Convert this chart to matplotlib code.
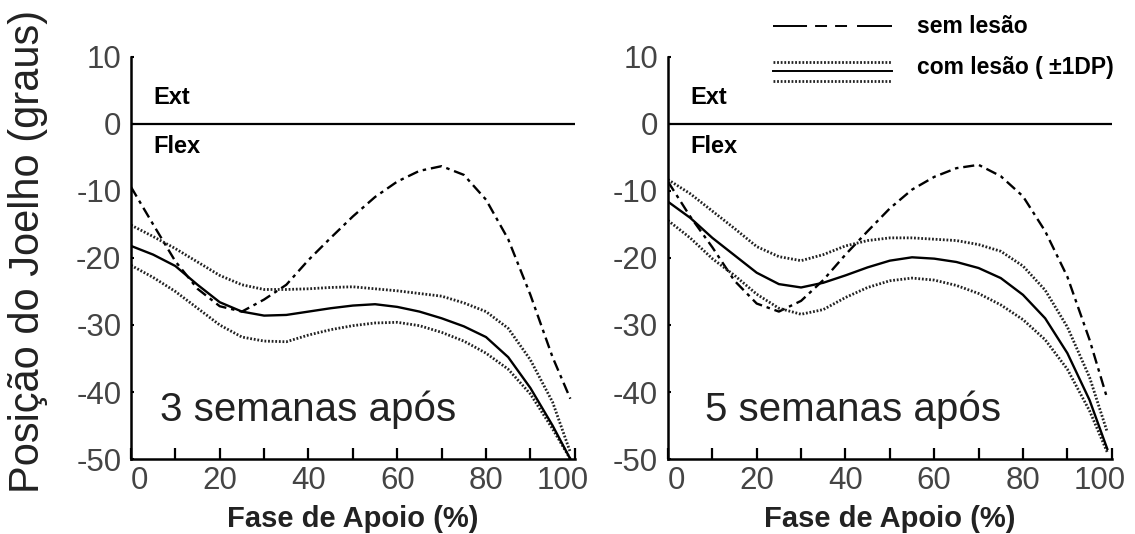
import matplotlib
matplotlib.use("Agg")
import matplotlib.pyplot as plt
from matplotlib.lines import Line2D
from matplotlib.transforms import ScaledTranslation

plt.rcParams['font.family'] = ['Liberation Sans', 'DejaVu Sans']
plt.rcParams['axes.unicode_minus'] = False
plt.rcParams['lines.scale_dashes'] = False

# fase de apoio (%)
fase = [0, 5, 10, 15, 20, 25, 30, 35, 40, 45, 50, 55, 60, 65, 70, 75, 80, 85, 90, 95, 99]

# 3 semanas após
sem3 = [-9.4, -15.0, -20.5, -24.6, -27.2, -28.0, -26.2, -24.0, -20.3, -17.0, -13.8, -10.9,
        -8.6, -7.0, -6.3, -7.6, -11.3, -17.2, -25.5, -34.8, -41.0]
com3 = [-18.2, -19.5, -21.2, -24.0, -26.6, -28.0, -28.6, -28.5, -28.0, -27.5, -27.1, -26.9,
        -27.3, -28.0, -29.0, -30.2, -31.8, -34.8, -39.4, -45.0, -50.0]
com3_sup = [-15.1, -16.8, -18.6, -20.6, -22.6, -24.0, -24.7, -24.7, -24.6, -24.4, -24.3, -24.6,
            -24.9, -25.3, -25.7, -26.7, -28.0, -30.5, -35.2, -41.5, -49.0]
com3_inf = [-21.1, -22.9, -25.0, -27.5, -30.0, -31.8, -32.4, -32.5, -31.5, -30.7, -30.1, -29.7,
            -29.6, -30.1, -31.1, -32.4, -34.2, -36.6, -40.3, -45.5, -50.0]

# 5 semanas após
sem5 = [-8.6, -13.8, -18.4, -23.4, -26.8, -28.0, -26.4, -23.3, -19.5, -16.0, -12.6, -9.8,
        -7.9, -6.6, -6.1, -7.8, -10.8, -16.0, -22.8, -32.2, -41.0]
com5 = [-11.6, -14.0, -17.0, -19.6, -22.2, -23.9, -24.4, -23.7, -22.6, -21.4, -20.4, -19.9,
        -20.1, -20.6, -21.5, -23.0, -25.5, -29.0, -34.2, -41.2, -48.5]
com5_sup = [-8.3, -10.4, -13.0, -15.6, -18.3, -19.8, -20.4, -19.5, -18.2, -17.4, -17.0, -17.0,
            -17.2, -17.4, -18.0, -19.0, -21.2, -24.8, -30.3, -37.8, -46.0]
com5_inf = [-14.4, -17.0, -20.1, -22.6, -25.4, -27.5, -28.4, -27.7, -25.9, -24.4, -23.4, -23.0,
            -23.3, -24.1, -25.3, -27.0, -29.2, -32.2, -36.6, -42.8, -49.0]

paineis = [
    ('3 semanas após', sem3, com3, com3_sup, com3_inf),
    ('5 semanas após', sem5, com5, com5_sup, com5_inf),
]

dashdot = (0, (8, 3.5, 2.5, 3.5))
dotted = (0, (1.3, 1.3))

fig = plt.figure(figsize=(11.35, 5.34), dpi=100)
lefts = [0.1154, 0.5885]
w, h, b = 0.391, 0.753, 0.1404

for left, (titulo, sem, com, sup, inf) in zip(lefts, paineis):
    ax = fig.add_axes([left, b, w, h])
    ax.axhline(0, color='black', lw=1.6)
    ax.plot(fase, sem, color='black', lw=1.7, linestyle=dashdot)
    ax.plot(fase, sup, color='#222222', lw=2.0, linestyle=dotted)
    ax.plot(fase, inf, color='#222222', lw=2.0, linestyle=dotted)
    ax.plot(fase, com, color='black', lw=1.7)

    ax.set_xlim(0, 100)
    ax.set_ylim(-50, 10)
    for s in ['top', 'right']:
        ax.spines[s].set_visible(False)
    for s in ['left', 'bottom']:
        ax.spines[s].set_linewidth(1.8)
    ax.set_xticks([0, 20, 40, 60, 80, 100])
    ax.set_xticks([10, 30, 50, 70, 90], minor=True)
    ax.set_yticks([10, 0, -10, -20, -30, -40, -50])
    ax.tick_params(axis='x', which='both', direction='in', length=8, width=1.6,
                   labelsize=22.5, labelcolor='#444444', pad=5)
    ax.tick_params(axis='y', direction='in', length=2.5, width=1.5,
                   labelsize=22.5, labelcolor='#444444', pad=7)

    # no original o "0" fica um pouco à direita e o "100" um pouco à esquerda
    rot = ax.get_xticklabels()
    rot[0].set_transform(rot[0].get_transform() + ScaledTranslation(8 / 100, 0, fig.dpi_scale_trans))
    rot[-1].set_transform(rot[-1].get_transform() + ScaledTranslation(-12 / 100, 0, fig.dpi_scale_trans))

    ax.text(5, 3.9, 'Ext', fontsize=17, fontweight='bold', va='center', ha='left')
    ax.text(5, -3.4, 'Flex', fontsize=17, fontweight='bold', va='center', ha='left')
    ax.text(6.5 if left < 0.5 else 8.4, -44.4, titulo, fontsize=29, color='#222222',
            va='baseline', ha='left')

    fig.text(left + w / 2, 1 - 519 / 534, 'Fase de Apoio (%)', fontsize=21,
             fontweight='bold', ha='center', va='center', color='#222222')

fig.text(0.025, 0.53, 'Posição do Joelho (graus)', rotation=90, fontsize=30,
         ha='center', va='center', color='#222222')

# legenda
fig.add_artist(Line2D([0.681, 0.786], [0.951, 0.951], transform=fig.transFigure,
                      color='black', lw=1.4,
                      dashes=(24.5, 5.8, 8.6, 5.8, 8.6, 7.2, 25.2, 100)))
fig.add_artist(Line2D([0.681, 0.786], [0.8845, 0.8845], transform=fig.transFigure,
                      color='#222222', lw=2.0, linestyle=dotted))
fig.add_artist(Line2D([0.681, 0.786], [0.867, 0.867], transform=fig.transFigure,
                      color='black', lw=1.4))
fig.add_artist(Line2D([0.681, 0.786], [0.848, 0.848], transform=fig.transFigure,
                      color='#222222', lw=2.0, linestyle=dotted))
fig.text(0.808, 0.951, 'sem lesão', fontsize=16.5, fontweight='bold', va='center', ha='left')
fig.text(0.808, 0.873, 'com lesão ( ±1DP)', fontsize=16.5, fontweight='bold',
         va='center', ha='left')

fig.savefig('out.png', dpi=100)
